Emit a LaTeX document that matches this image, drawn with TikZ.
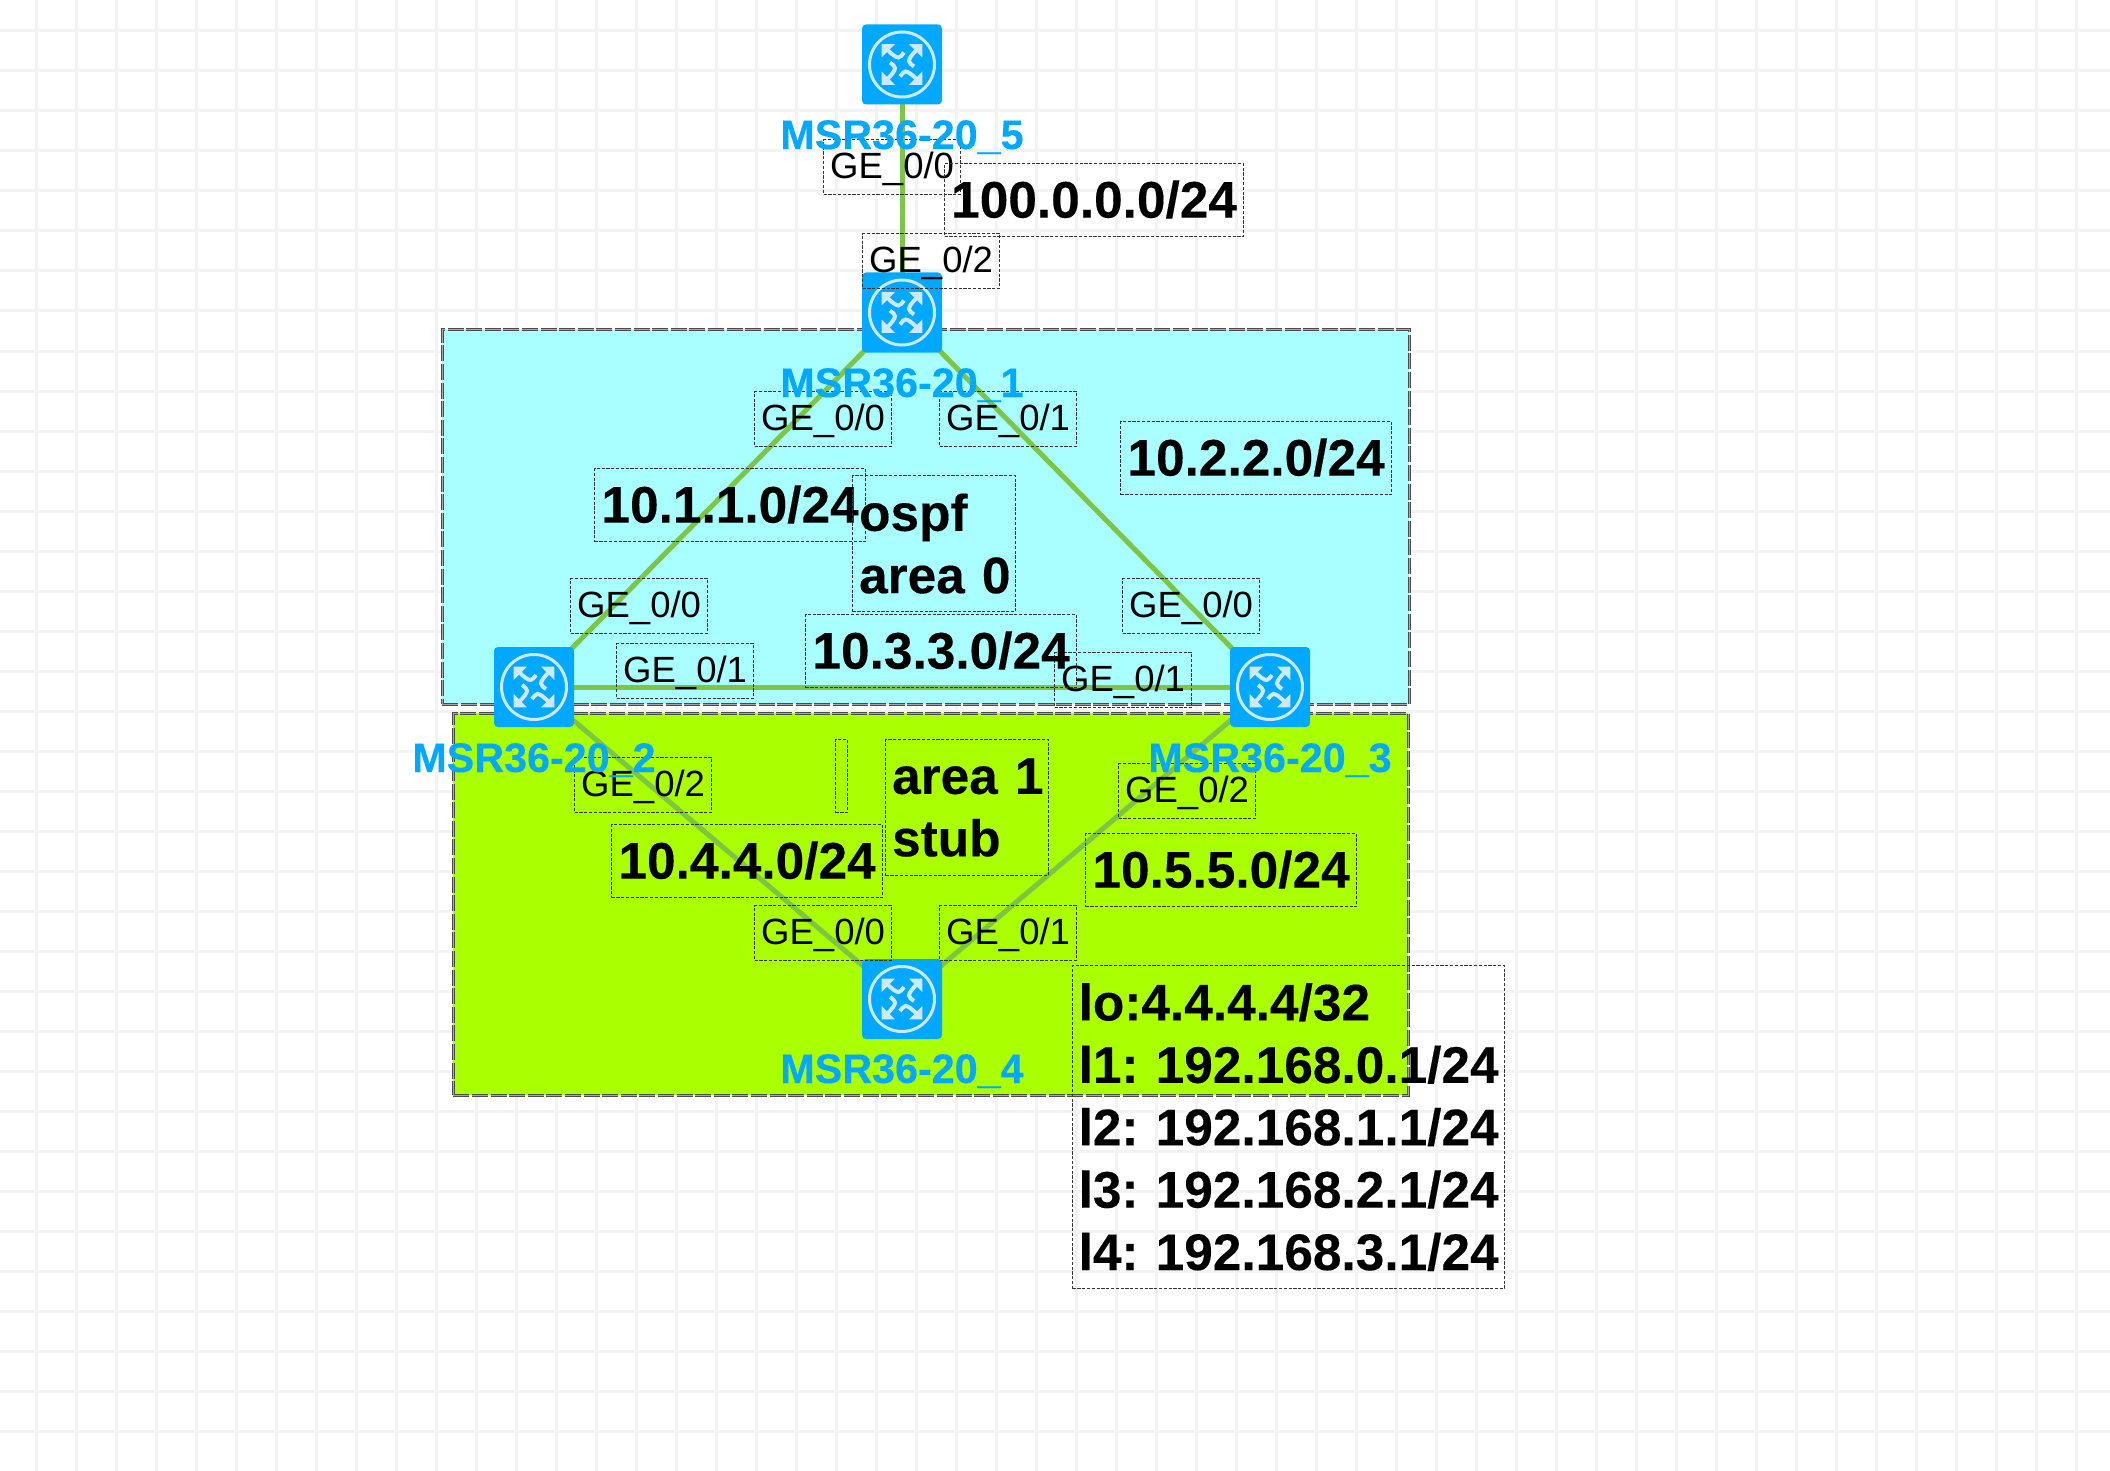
\documentclass[tikz,border=0pt]{standalone}
\usepackage{fontspec}
\setmainfont[BoldFeatures={FakeBold=0.25}]{Liberation Sans}
\frenchspacing
\pgfdeclarelayer{paper}
\pgfdeclarelayer{links}
\pgfsetlayers{paper,links,main}
\definecolor{gridc}{HTML}{F3F3F3}
\definecolor{cyanzone}{HTML}{A9FFFF}
\definecolor{greenzone}{HTML}{AAFF00}
\definecolor{linkc}{HTML}{7DC544}
\definecolor{routerc}{HTML}{00A9FF}
\definecolor{glyphc}{HTML}{CCE9FF}
\definecolor{dashc}{HTML}{333333}
\tikzset{
  x=1pt,y=-1pt,
  zone/.style={draw=black!70,double=black!35,double distance=0.8pt,line width=0.9pt,dash pattern=on 16pt off 2.6pt,anchor=north west,inner sep=0pt},
  dashbox/.style={draw=dashc,line width=1.2pt,dash pattern=on 3.2pt off 1.6pt,anchor=north west,inner sep=0pt},
  portlbl/.style={dashbox,minimum width=137pt,minimum height=55pt,text height=25pt,text depth=2pt,font=\fontsize{36.5}{43}\selectfont},
  netlbl/.style={dashbox,minimum width=271pt,minimum height=73pt,text height=37pt,text depth=2pt,font=\fontsize{51.4}{60}\bfseries\selectfont},
  notelbl/.style={dashbox,inner xsep=6.5pt,align=left,font=\fontsize{51.4}{62.4}\bfseries\selectfont},
  router/.style={fill=routerc,rounded corners=4pt,minimum size=80pt,inner sep=0pt},
  routername/.style={text=routerc,anchor=base,inner sep=0pt,font=\fontsize{41.3}{48}\bfseries\selectfont},
  link/.style={draw=linkc,line width=5pt},
  routerglyph/.pic={
    \draw[glyphc,line width=3pt] (0,0) circle (32.5pt);
    \foreach \a in {0,90,180,270}{
      \begin{scope}[rotate=\a]
        \fill[glyphc] (-20.3,-20.3) -- (-7,-20.3) -- (-20.3,-7) -- cycle;
        \draw[glyphc,line width=4pt] (-15,-15) .. controls (-10,-10) and (-6,-7) .. (-3.6,-7) .. controls (-1.5,-7) and (0,-9.5) .. (2,-12);
      \end{scope}
    }
  }
}
\begin{document}
\begin{tikzpicture}
\useasboundingbox (0,0) rectangle (2110,1471);
\begin{pgfonlayer}{paper}
  \fill[white] (0,0) rectangle (2110,1471);
  \foreach \gx in {36,76,...,2100}{\draw[gridc,line width=3pt] (\gx,0) -- (\gx,1471);}
  \foreach \gy in {31,71,...,1460}{\draw[gridc,line width=3pt] (0,\gy) -- (2110,\gy);}
  % zones
  \node[zone,fill=cyanzone,minimum width=967pt,minimum height=375pt] (area0) at (442,329) {};
  \node[zone,fill=greenzone,minimum width=955pt,minimum height=382pt] (area1) at (453,713) {};
\end{pgfonlayer}

% routers
\node[router] (r5) at (902,64.5) {};
\node[router] (r1) at (902,312.5) {};
\node[router] (r2) at (534,687) {};
\node[router] (r3) at (1270,687) {};
\node[router] (r4) at (902,999) {};
\foreach \r in {r1,r2,r3,r4,r5}{\pic at (\r) {routerglyph};}

% links
\begin{pgfonlayer}{links}
  \draw[link] (r5.center) -- (r1.center);
  \draw[link] (r1.center) -- (r2.center);
  \draw[link] (r1.center) -- (r3.center);
  \draw[link] (r2.center) -- (r3.center);
  \draw[link] (r2.center) -- (r4.center);
  \draw[link] (r3.center) -- (r4.center);
\end{pgfonlayer}

% port labels
\node[portlbl] (p5a) at (823,139) {GE\_0/0};
\node[portlbl] (p1c) at (862,233) {GE\_0/2};
\node[portlbl] (p1a) at (754,391) {GE\_0/0};
\node[portlbl] (p1b) at (939,391) {GE\_0/1};
\node[portlbl] (p2a) at (570,578) {GE\_0/0};
\node[portlbl] (p2b) at (616,643) {GE\_0/1};
\node[portlbl] (p2c) at (574,757) {GE\_0/2};
\node[portlbl] (p3a) at (1122,578) {GE\_0/0};
\node[portlbl] (p3b) at (1054,652) {GE\_0/1};
\node[portlbl] (p3c) at (1118,763) {GE\_0/2};
\node[portlbl] (p4a) at (754,905) {GE\_0/0};
\node[portlbl] (p4b) at (939,905) {GE\_0/1};

% network labels
\node[netlbl,minimum width=299pt] (n100) at (944,163) {100.0.0.0/24};
\node[netlbl] (n1) at (594,468) {10.1.1.0/24};
\node[netlbl] (n2) at (1120,421) {10.2.2.0/24};
\node[netlbl] (n3) at (805,614) {10.3.3.0/24};
\node[netlbl] (n4) at (611,824) {10.4.4.0/24};
\node[netlbl] (n5) at (1085,833) {10.5.5.0/24};

% notes
\node[notelbl,text width=150pt,minimum height=136pt] (noteA) at (852,475) {\mbox{ospf}\\\mbox{area 0}};
\node[notelbl,text width=150pt,minimum height=136pt] (noteB) at (885,739) {\mbox{area 1}\\\mbox{stub}};
\node[dashbox,minimum width=12pt,minimum height=73pt] (noteC) at (835,739) {};
\node[notelbl,inner xsep=6pt,text width=420pt,minimum height=323pt] (noteD) at (1072,965) {\mbox{lo:4.4.4.4/32}\\\mbox{l1: 192.168.0.1/24}\\\mbox{l2: 192.168.1.1/24}\\\mbox{l3: 192.168.2.1/24}\\\mbox{l4: 192.168.3.1/24}};

% router names
\node[routername] (t5) at (902,149) {MSR36-20\_5};
\node[routername] (t1) at (902,397) {MSR36-20\_1};
\node[routername] (t2) at (534,772) {MSR36-20\_2};
\node[routername] (t3) at (1270,772) {MSR36-20\_3};
\node[routername] (t4) at (902,1083) {MSR36-20\_4};
\end{tikzpicture}
\end{document}
